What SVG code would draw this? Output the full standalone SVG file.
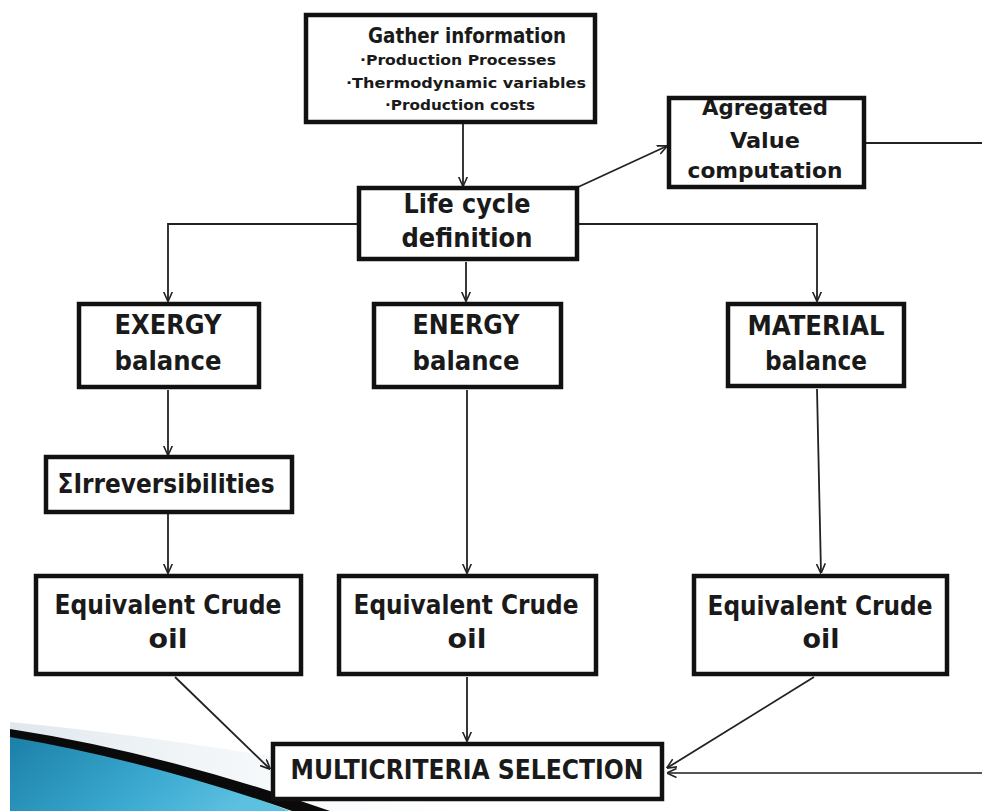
<svg xmlns="http://www.w3.org/2000/svg" width="982" height="811" viewBox="0 0 982 811">
<defs>
<style>
.box{fill:#fff;stroke:#111;stroke-width:4.5}
.edge{fill:none;stroke:#222;stroke-width:1.8}
.t{font-family:"DejaVu Sans Condensed","Liberation Sans",sans-serif;font-weight:bold;fill:#1a1a1a;text-anchor:middle}
.big{font-size:26px}
.mid{font-size:22px}
.sm{font-size:14px}
</style>
<marker id="arr" viewBox="0 0 10 10" refX="9.5" refY="5" markerWidth="10" markerHeight="10" markerUnits="userSpaceOnUse" orient="auto">
<path d="M0,0.5 L10,5 L0,9.5" fill="none" stroke="#222" stroke-width="1.6"/>
</marker>
<linearGradient id="blue" x1="0" y1="0" x2="1" y2="0.3">
<stop offset="0" stop-color="#1b7fa6"/>
<stop offset="0.6" stop-color="#3aa8cf"/>
<stop offset="1" stop-color="#5cc0e0"/>
</linearGradient>
<linearGradient id="haze" x1="0" y1="0" x2="1" y2="0">
<stop offset="0" stop-color="#dfe8ee"/>
<stop offset="1" stop-color="#ffffff" stop-opacity="0"/>
</linearGradient>
</defs>
<rect width="982" height="811" fill="#fff"/>
<g id="decoration">
<path d="M10,722 Q250,745 560,811 L320,811 Q160,760 10,730 Z" fill="url(#haze)"/>
<path d="M10,735 Q150,758 290,811 L10,811 Z" fill="url(#blue)"/>
<path d="M10,729 Q160,752 330,811 L292,811 Q150,761 10,737 Z" fill="#0a0a0a"/>
</g>
<g id="connectors">
<path class="edge" d="M463,124 L463,186" marker-end="url(#arr)"/>
<path class="edge" d="M576,188 L667,146" marker-end="url(#arr)"/>
<path class="edge" d="M866,143 L982,143"/>
<path class="edge" d="M357,224 L168,224 L168,301" marker-end="url(#arr)"/>
<path class="edge" d="M466,262 L466,301" marker-end="url(#arr)"/>
<path class="edge" d="M579,224 L817,224 L817,301" marker-end="url(#arr)"/>
<path class="edge" d="M168,390 L168,455" marker-end="url(#arr)"/>
<path class="edge" d="M168,514 L168,573" marker-end="url(#arr)"/>
<path class="edge" d="M467,390 L467,573" marker-end="url(#arr)"/>
<path class="edge" d="M817,389 L821,573" marker-end="url(#arr)"/>
<path class="edge" d="M175,677 L270,769" marker-end="url(#arr)"/>
<path class="edge" d="M467,677 L467,741" marker-end="url(#arr)"/>
<path class="edge" d="M814,677 L667,768" marker-end="url(#arr)"/>
<path d="M982,773 L667,773" fill="none" stroke="#555" stroke-width="2.2" marker-end="url(#arr)"/>
</g>
<g id="gather">
<rect class="box" x="306" y="15" width="289" height="107"/>
<text class="t mid" x="467" y="43" textLength="198" lengthAdjust="spacingAndGlyphs">Gather information</text>
<text class="t sm" x="458" y="65" textLength="196" lengthAdjust="spacingAndGlyphs">·Production Processes</text>
<text class="t sm" x="466" y="88" textLength="240" lengthAdjust="spacingAndGlyphs">·Thermodynamic variables</text>
<text class="t sm" x="460" y="110" textLength="150" lengthAdjust="spacingAndGlyphs">·Production costs</text>
</g>
<g id="agregated">
<rect x="669" y="98" width="195" height="89" fill="#fff"/>
<text class="t mid" x="765" y="115" textLength="126" lengthAdjust="spacingAndGlyphs">Agregated</text>
<text class="t mid" x="765" y="148" textLength="70" lengthAdjust="spacingAndGlyphs">Value</text>
<text class="t mid" x="765" y="178" textLength="155" lengthAdjust="spacingAndGlyphs">computation</text>
<rect x="669" y="98" width="195" height="89" fill="none" stroke="#111" stroke-width="4.5"/>
</g>
<g id="lifecycle">
<rect class="box" x="359" y="188" width="218" height="71"/>
<text class="t big" x="467" y="213" textLength="127" lengthAdjust="spacingAndGlyphs">Life cycle</text>
<text class="t big" x="467" y="247" textLength="131" lengthAdjust="spacingAndGlyphs">definition</text>
</g>
<g id="exergy">
<rect class="box" x="79" y="304" width="180" height="83"/>
<text class="t big" x="168" y="334" textLength="107" lengthAdjust="spacingAndGlyphs">EXERGY</text>
<text class="t big" x="168" y="370" textLength="107" lengthAdjust="spacingAndGlyphs">balance</text>
</g>
<g id="energy">
<rect class="box" x="374" y="304" width="187" height="83"/>
<text class="t big" x="466" y="334" textLength="107" lengthAdjust="spacingAndGlyphs">ENERGY</text>
<text class="t big" x="466" y="370" textLength="107" lengthAdjust="spacingAndGlyphs">balance</text>
</g>
<g id="material">
<rect class="box" x="728" y="304" width="176" height="82"/>
<text class="t big" x="816" y="335" textLength="137" lengthAdjust="spacingAndGlyphs">MATERIAL</text>
<text class="t big" x="816" y="370" textLength="102" lengthAdjust="spacingAndGlyphs">balance</text>
</g>
<g id="irreversibilities">
<rect class="box" x="46" y="457" width="246" height="55"/>
<text class="t big" x="166" y="493" textLength="217" lengthAdjust="spacingAndGlyphs">ΣIrreversibilities</text>
</g>
<g id="crude1">
<rect class="box" x="36" y="576" width="265" height="98"/>
<text class="t big" x="168" y="614" textLength="227" lengthAdjust="spacingAndGlyphs">Equivalent Crude</text>
<text class="t big" x="168" y="648" textLength="39" lengthAdjust="spacingAndGlyphs">oil</text>
</g>
<g id="crude2">
<rect class="box" x="339" y="576" width="257" height="98"/>
<text class="t big" x="466" y="614" textLength="225" lengthAdjust="spacingAndGlyphs">Equivalent Crude</text>
<text class="t big" x="467" y="648" textLength="39" lengthAdjust="spacingAndGlyphs">oil</text>
</g>
<g id="crude3">
<rect class="box" x="694" y="576" width="253" height="98"/>
<text class="t big" x="820" y="615" textLength="225" lengthAdjust="spacingAndGlyphs">Equivalent Crude</text>
<text class="t big" x="821" y="648" textLength="37" lengthAdjust="spacingAndGlyphs">oil</text>
</g>
<g id="multicriteria">
<rect class="box" x="273" y="744" width="389" height="55"/>
<text class="t big" x="467" y="779" textLength="353" lengthAdjust="spacingAndGlyphs">MULTICRITERIA SELECTION</text>
</g>
</svg>
